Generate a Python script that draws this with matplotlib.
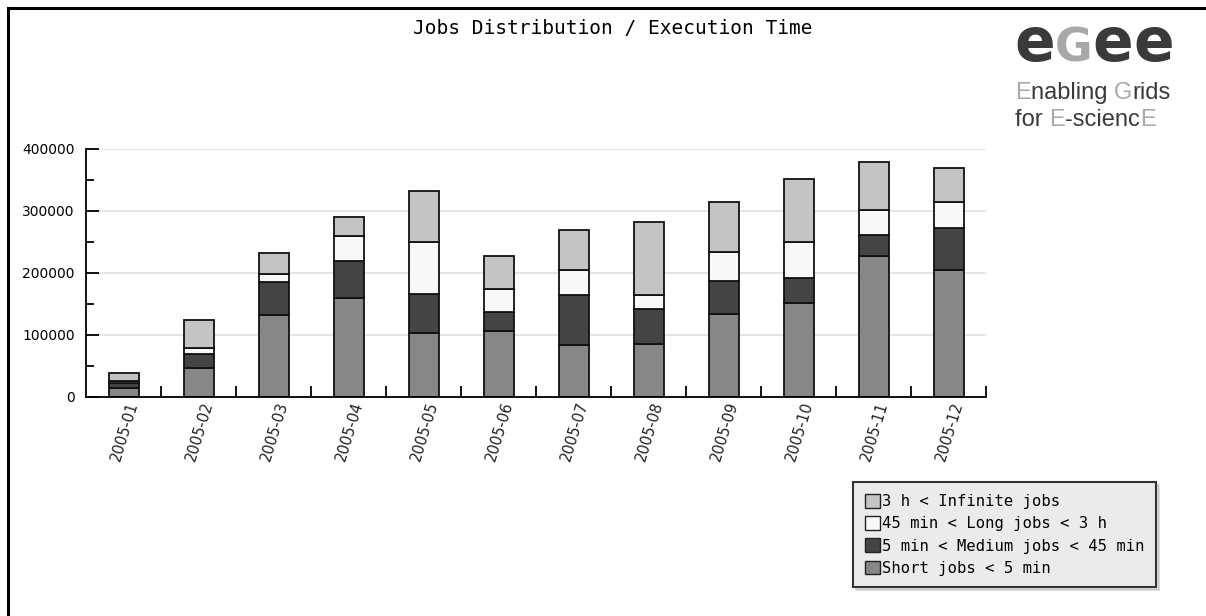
import numpy as np
import matplotlib.pyplot as plt
from matplotlib.lines import Line2D
from matplotlib.patches import Patch
from matplotlib.ticker import MultipleLocator, StrMethodFormatter

# monthly job counts per execution time class
months = ['2005-01', '2005-02', '2005-03', '2005-04', '2005-05', '2005-06',
          '2005-07', '2005-08', '2005-09', '2005-10', '2005-11', '2005-12']
short_jobs = [14500, 47000, 131700, 159700, 103800, 106000,
              83900, 86000, 134400, 151600, 226900, 204300]
medium_jobs = [8000, 22500, 53300, 59700, 62900, 30700,
               80600, 55400, 52700, 40900, 35000, 67800]
long_jobs = [4000, 10000, 14000, 40300, 83300, 38000,
             39800, 22600, 47300, 57000, 40300, 43000]
infinite_jobs = [12500, 45000, 33300, 30100, 82300, 52200,
                 65600, 118800, 80700, 102700, 77400, 54800]

series = [short_jobs, medium_jobs, long_jobs, infinite_jobs]
names = ['Short jobs < 5 min', '5 min < Medium jobs < 45 min',
         '45 min < Long jobs < 3 h', '3 h < Infinite jobs']
colors = ['#878787', '#444444', '#f8f8f8', '#c4c4c4']

W, H = 1206, 616
fig = plt.figure(figsize=(W / 100, H / 100), dpi=100)
fig.patch.set_facecolor('white')

# frame on the left and top only
fig.add_artist(Line2D([8 / W, 8 / W], [0, 1 - 8 / H], color='black', lw=2.2,
                      transform=fig.transFigure))
fig.add_artist(Line2D([8 / W, 1], [1 - 8 / H, 1 - 8 / H], color='black', lw=2.2,
                      transform=fig.transFigure))

ax = fig.add_axes([86 / W, 1 - 397 / H, 900 / W, 248 / H])
x = np.arange(len(months))
bottom = np.zeros(len(months))
for vals, c in zip(series, colors):
    ax.bar(x, vals, width=0.4, bottom=bottom, color=c, edgecolor='#111111',
           linewidth=1.3, zorder=3)
    bottom += np.array(vals)

ax.set_xlim(-0.5, len(months) - 0.5)
ax.set_ylim(0, 400000)
ax.yaxis.set_major_locator(MultipleLocator(100000))
ax.yaxis.set_minor_locator(MultipleLocator(50000))
ax.yaxis.set_major_formatter(StrMethodFormatter('{x:.0f}'))
ax.grid(axis='y', which='major', color='#e0e0e0', lw=1.2, zorder=0)
for s in ['top', 'right']:
    ax.spines[s].set_visible(False)
for s in ['left', 'bottom']:
    ax.spines[s].set_linewidth(1.3)
    ax.spines[s].set_zorder(4)

ax.set_xticks(x + 0.5)
ax.set_xticklabels([])
ax.tick_params(axis='x', which='major', direction='in', length=8, width=1.3)
ax.tick_params(axis='y', which='major', direction='in', length=9, width=1.3,
               labelsize=10, pad=8)
ax.tick_params(axis='y', which='minor', direction='in', length=6, width=1.3)
for xi, m in zip(x, months):
    ax.text(xi + 0.04, -4000, m, rotation=73, ha='right', va='top',
            rotation_mode='anchor', fontsize=10.5, color='#222222')

fig.text(613 / W, 1 - 28 / H, 'Jobs Distribution / Execution Time',
         ha='center', va='center', family='DejaVu Sans Mono', fontsize=14)

leg = fig.legend([Patch(facecolor=c, edgecolor='#222222') for c in colors[::-1]],
                 names[::-1], loc='upper left',
                 bbox_to_anchor=(853 / W, 1 - 482 / H),
                 prop={'family': 'DejaVu Sans Mono', 'size': 11.2},
                 frameon=True, fancybox=False, shadow={'color': '#bbbbbb'},
                 handlelength=1.0, handleheight=1.0, handletextpad=0.1,
                 borderpad=0.75, labelspacing=0.45, borderaxespad=0)
leg.get_frame().set_facecolor('#ebebeb')
leg.get_frame().set_edgecolor('#333333')
leg.get_frame().set_linewidth(1.5)
leg.get_frame().set_alpha(1)


# logo drawn as coloured text pieces placed one after another
def colour_text(x0, y0, parts, **kw):
    fig.canvas.draw()
    r = fig.canvas.get_renderer()
    xp = x0
    for s, c, extra in parts:
        opts = dict(kw)
        opts.update(extra)
        t = fig.text(xp, y0, s, color=c, ha='left', va='baseline', **opts)
        bb = t.get_window_extent(renderer=r)
        xp += bb.width / W


dark = '#3a3a3a'
grey = '#a8a8a8'
colour_text(1014 / W, 1 - 61 / H,
            [('e', dark, {}), ('G', grey, {'fontsize': 33}), ('e', dark, {}), ('e', dark, {})],
            family='DejaVu Sans', fontsize=43, fontweight='bold')
colour_text(1015 / W, 1 - 99 / H,
            [('E', grey, {}), ('nabling ', dark, {}), ('G', grey, {}), ('rids', dark, {})],
            family='Liberation Sans', fontsize=17)
colour_text(1015 / W, 1 - 126 / H,
            [('for ', dark, {}), ('E', grey, {}), ('-scienc', dark, {}), ('E', grey, {})],
            family='Liberation Sans', fontsize=17)

fig.savefig('out.png', dpi=100)
